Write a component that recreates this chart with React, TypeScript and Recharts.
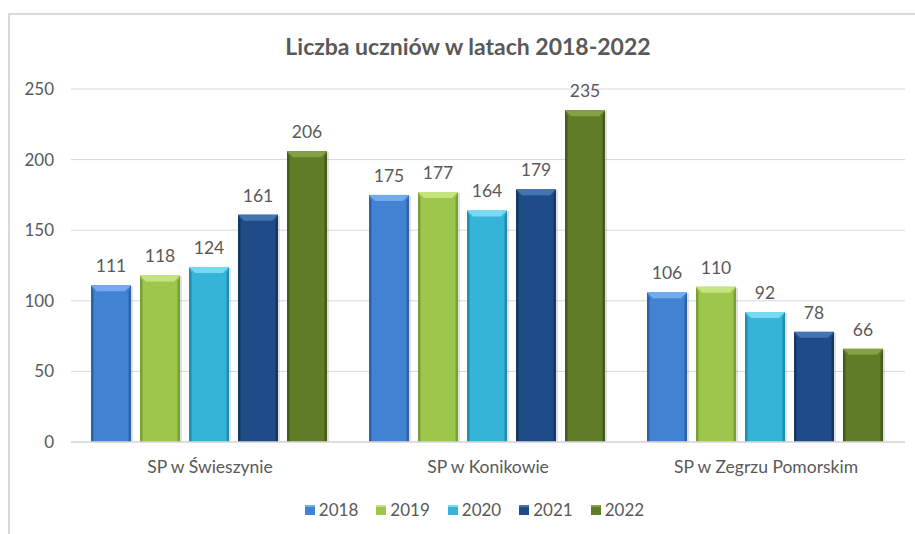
import React from 'react';
import { BarChart, Bar, XAxis, YAxis, CartesianGrid, Legend, LabelList } from 'recharts';

const schools = ['SP w Świeszynie', 'SP w Konikowie', 'SP w Zegrzu Pomorskim'];
const years = ['2018', '2019', '2020', '2021', '2022'];
const v2018 = [111, 175, 106];
const v2019 = [118, 177, 110];
const v2020 = [124, 164, 92];
const v2021 = [161, 179, 78];
const v2022 = [206, 235, 66];
const yTicks = [0, 50, 100, 150, 200, 250];
const title = 'Liczba uczniów w latach 2018-2022';

const seriesValues = [v2018, v2019, v2020, v2021, v2022];
const data = schools.map((name, i) => {
  const row: any = { name };
  years.forEach((y, k) => { row[y] = seriesValues[k][i]; });
  return row;
});

const palette = [
  { fill: '#4182d3', light: '#74abed', dark: '#2c62a8' },
  { fill: '#9cc74c', light: '#c4e47e', dark: '#7a9f34' },
  { fill: '#35b4d8', light: '#78daf2', dark: '#208cae' },
  { fill: '#1f4c87', light: '#4574b2', dark: '#143763' },
  { fill: '#5f7c26', light: '#83a243', dark: '#445c17' },
];

const FONT = 'Lato, "Open Sans", sans-serif';
const TXT = '#595959';

const makeShape = (c: { fill: string; light: string; dark: string }) => (props: any) => {
  const { x, y, width, height } = props;
  if (!height || height <= 0) return <g />;
  const b = Math.min(6, height / 2);
  const s = 2.5;
  return (
    <g>
      <rect x={x + 2} y={y + 1} width={width} height={height - 1} fill="#000" opacity={0.12} />
      <rect x={x} y={y} width={width} height={height} fill={c.fill} />
      <polygon points={`${x},${y} ${x + s},${y + b} ${x + s},${y + height} ${x},${y + height}`} fill={c.dark} />
      <polygon points={`${x + width},${y} ${x + width - s},${y + b} ${x + width - s},${y + height} ${x + width},${y + height}`} fill={c.dark} />
      <polygon points={`${x},${y} ${x + width},${y} ${x + width - b},${y + b} ${x + b},${y + b}`} fill={c.light} />
    </g>
  );
};

const LegendContent = () => (
  <div style={{ display: 'flex', justifyContent: 'center', paddingTop: 20, paddingLeft: 62, fontFamily: FONT, fontSize: 17, color: TXT, lineHeight: '16px' }}>
    {years.map((y, k) => (
      <div key={y} style={{ display: 'flex', alignItems: 'center', marginRight: 18 }}>
        <div style={{ width: 10, height: 10, background: palette[k].fill, borderTop: `2px solid ${palette[k].light}`, boxSizing: 'border-box', marginRight: 4 }} />
        <span>{y}</span>
      </div>
    ))}
  </div>
);

export default function App() {
  return (
    <div style={{ position: 'absolute', left: 0, top: 0, width: 915, height: 534, background: '#fff', overflow: 'hidden' }}>
      <div style={{ position: 'absolute', left: 8, top: 13, width: 940, height: 560, border: '2px solid #d9d9d9', boxSizing: 'border-box' }} />
      <div style={{ position: 'absolute', left: 8, width: 920, top: 32, textAlign: 'center', fontFamily: FONT, fontWeight: 700, fontSize: 23, color: TXT }}>
        {title}
      </div>
      <div style={{ position: 'absolute', left: 0, top: 0 }}>
        <BarChart width={915} height={534} data={data} margin={{ top: 89, right: 10, left: 0, bottom: 10 }} barCategoryGap={20} barGap={9}>
          <CartesianGrid vertical={false} stroke="#d9d9d9" strokeWidth={1} />
          <XAxis dataKey="name" height={40} tickLine={false} axisLine={{ stroke: '#d9d9d9', strokeWidth: 1.5 }} tickMargin={13}
            tick={{ fill: TXT, fontSize: 17.5, fontFamily: FONT }} />
          <YAxis width={71} domain={[0, 250]} ticks={yTicks} axisLine={false} tickLine={false} tickMargin={11}
            tick={{ fill: TXT, fontSize: 17, fontFamily: FONT }} />
          <Legend verticalAlign="bottom" wrapperStyle={{ height: 42 }} content={<LegendContent />} />
          {years.map((y, k) => (
            <Bar key={y} dataKey={y} fill={palette[k].fill} shape={makeShape(palette[k])} isAnimationActive={false}>
              <LabelList dataKey={y} position="top" offset={13} fill={TXT} fontSize={17.5} fontFamily={FONT} />
            </Bar>
          ))}
        </BarChart>
      </div>
    </div>
  );
}
